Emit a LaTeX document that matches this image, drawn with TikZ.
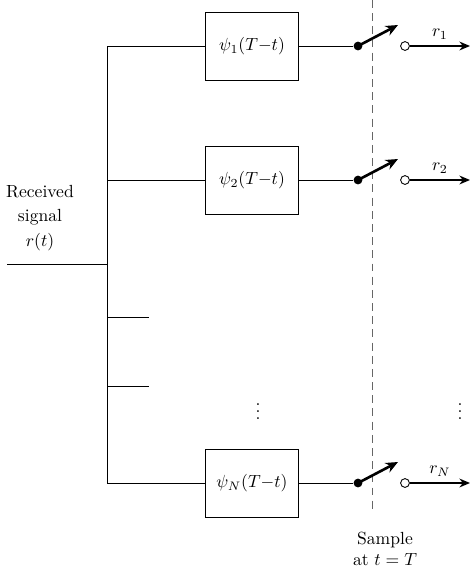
\documentclass[tikz,border=0pt]{standalone}
\usetikzlibrary{arrows.meta}
\begin{document}
\begin{tikzpicture}[x=0.02cm, y=-0.02cm, >={Stealth[length=6pt,width=5pt]}, line width=0.5pt,
  filt/.style={draw, minimum width=1.86cm, minimum height=1.36cm, inner sep=2pt},
  pin/.style={circle, fill, inner sep=0pt, minimum size=5pt},
  hole/.style={circle, draw, fill=white, inner sep=0pt, minimum size=5pt},
  lever/.style={-{Stealth[length=7pt,width=6pt]}, line width=1.5pt}]
\useasboundingbox (0,0) rectangle (470,572);
% filters
\node[filt] (box1) at (252,46) {$\psi_1(T{-}t)$};
\node[filt] (box2) at (252,180) {$\psi_2(T{-}t)$};
\node[filt] (boxN) at (252,483) {$\psi_N(T{-}t)$};
% input and bus
\node[align=center] (rx) at (40,218) {Received\\[2pt]signal\\[2pt]$r(t)$};
\coordinate (in) at (7,264);
\coordinate (bin) at (107,264);
\coordinate (b1) at (107,46);
\coordinate (b2) at (107,180);
\coordinate (bN) at (107,483);
\coordinate (s1) at (107,317);
\coordinate (s1e) at (149,317);
\coordinate (s2) at (107,386);
\coordinate (s2e) at (149,386);
\draw (in) -- (bin);
\draw (box1.west) -- (b1) -- (bN) -- (boxN.west);
\draw (b2) -- (box2.west);
\draw (s1) -- (s1e);
\draw (s2) -- (s2e);
\node (dots1) at (258,406) {$\vdots$};
% sampler
\coordinate (dtop) at (372,0);
\coordinate (dbot) at (372,513);
\draw[gray!80!black, dash pattern=on 4.5pt off 3pt] (dtop) -- (dbot);
\node[align=center] (smp) at (385,549) {Sample\\at $t=T$};
% row 1
\node[pin] (p1) at (358,46) {};
\coordinate (t1) at (398,25);
\node[hole] (o1) at (405,46) {};
\coordinate (e1) at (470,46);
\draw (box1.east) -- (p1);
\draw[lever] (p1.center) -- (t1);
\draw[->, line width=1pt] (o1) -- (e1) node[midway, above] {$r_1$};
% row 2
\node[pin] (p2) at (358,180) {};
\coordinate (t2) at (398,159);
\node[hole] (o2) at (405,180) {};
\coordinate (e2) at (470,180);
\draw (box2.east) -- (p2);
\draw[lever] (p2.center) -- (t2);
\draw[->, line width=1pt] (o2) -- (e2) node[midway, above] {$r_2$};
% row N
\node[pin] (pN) at (358,483) {};
\coordinate (tN) at (398,462);
\node[hole] (oN) at (405,483) {};
\coordinate (eN) at (470,483);
\draw (boxN.east) -- (pN);
\draw[lever] (pN.center) -- (tN);
\draw[->, line width=1pt] (oN) -- (eN) node[midway, above] {$r_N$};
\node (dots2) at (460,406) {$\vdots$};
\end{tikzpicture}
\end{document}
